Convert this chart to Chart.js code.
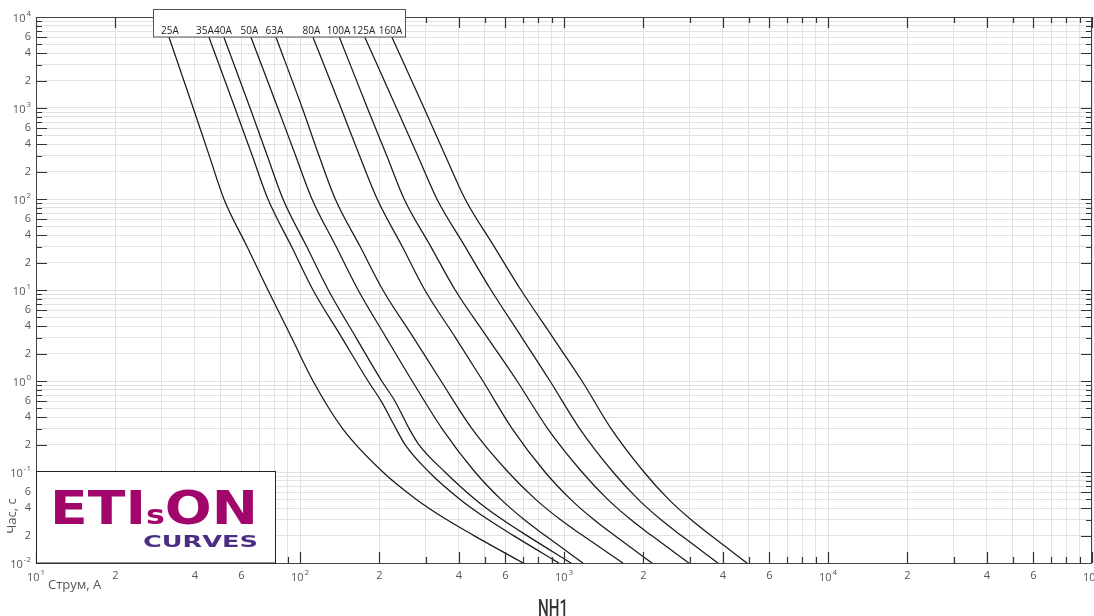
<!DOCTYPE html>
<html>
<head>
<meta charset="utf-8">
<script src="https://cdn.jsdelivr.net/npm/chart.js@4.4.1/dist/chart.umd.min.js"></script>
<style>
  body { margin: 0; background: #fff; }
  #wrap { width: 1094px; height: 616px; }
</style>
</head>
<body>
<div id="wrap"><canvas id="fuseChart" width="1094" height="616"></canvas></div>
<script>
    // fuse ratings (labels in the top box)
    const ratings = ["25A", "35A", "40A", "50A", "63A", "80A", "100A", "125A", "160A"];

    // time points, s
    const timesStd = [6000, 1000, 300, 100, 30, 10, 3, 1, 0.3, 0.1, 0.05, 0.03, 0.02, 0.01];
    const timesKink = [6000, 1000, 300, 100, 30, 10, 3, 1, 0.6, 0.3, 0.2, 0.1, 0.05, 0.03, 0.02, 0.01];

    // prospective current, A
    const i25 = [31.9, 39.4, 45.3, 51.5, 63.0, 75.6, 92.9, 112, 145, 206, 276, 359, 456, 699];
    const i35 = [45.2, 56.7, 65.9, 75.6, 92.9, 112, 144, 181, 203, 231, 250, 308, 404, 516, 644, 957];
    const i40 = [51.5, 64.7, 75.1, 86.2, 106, 128, 163, 204, 229, 259, 282, 354, 461, 584, 724, 1063];
    const i50 = [65.2, 82.4, 96.2, 111, 137, 166, 212, 266, 345, 460, 577, 706, 849, 1180];
    const i63 = [81.1, 102, 118, 136, 169, 206, 269, 342, 448, 614, 781, 968, 1178, 1673];
    const i80 = [112, 143, 168, 196, 244, 297, 388, 493, 636, 847, 1060, 1296, 1555, 2155];
    const i100 = [141, 180, 213, 248, 313, 387, 513, 664, 867, 1170, 1464, 1789, 2147, 2975];
    const i125 = [176, 232, 279, 330, 422, 529, 693, 885, 1146, 1533, 1910, 2326, 2782, 3831];
    const i160 = [223, 295, 355, 422, 544, 687, 908, 1170, 1508, 2009, 2492, 3025, 3604, 4934];

    const currents = [i25, i35, i40, i50, i63, i80, i100, i125, i160];
    const timesFor = [timesStd, timesKink, timesKink, timesStd, timesStd, timesStd, timesStd, timesStd, timesStd];

    // axis ranges
    const xMin = 10, xMax = 100000;
    const yMin = 0.01, yMax = 10000;

    // label centres inside the top box (px), as placed in the original sheet
    const labelX = [170, 205, 223, 249.5, 274.5, 311.5, 338.5, 363.5, 390.5];

    function logSteps(lo, hi) {
      const out = [];
      for (let e = Math.round(Math.log10(lo)); Math.pow(10, e) <= hi * 1.001; e++) {
        for (let m = 1; m <= 9; m++) {
          const v = m * Math.pow(10, e);
          if (v >= lo * 0.999 && v <= hi * 1.001) out.push({ v: v, m: m, e: e });
        }
      }
      return out;
    }

    const xSteps = logSteps(xMin, xMax);
    const ySteps = logSteps(yMin, yMax);

    const datasets = currents.map((cur, k) => ({
      label: ratings[k],
      data: cur.map((c, j) => ({ x: c, y: timesFor[k][j] })),
      showLine: true,
      borderColor: "#1a1a1a",
      borderWidth: 1.25,
      pointRadius: 0,
      cubicInterpolationMode: "monotone",
    }));

    function drawPow(ctx, exp, x, y, align) {
      ctx.font = '11px "Open Sans"';
      const wBase = ctx.measureText("10").width;
      ctx.font = '8px "Open Sans"';
      const sup = String(exp);
      const wSup = ctx.measureText(sup).width;
      let left;
      if (align === "right") left = x - wBase - wSup - 1;
      else left = x - (wBase + wSup + 1) / 2;
      ctx.textAlign = "left";
      ctx.textBaseline = "middle";
      ctx.font = '11px "Open Sans"';
      ctx.fillText("10", left, y + 2);
      ctx.font = '8px "Open Sans"';
      ctx.fillText(sup, left + wBase + 1, y - 3);
    }

    const decor = {
      id: "decor",
      afterDraw(chart) {
        const ctx = chart.ctx;
        const xs = chart.scales.x, ys = chart.scales.y;
        const a = chart.chartArea;
        ctx.save();

        // inward ticks on all four sides
        ctx.strokeStyle = "#333";
        ctx.lineWidth = 1.2;
        ctx.beginPath();
        xSteps.forEach(s => {
          const len = [1, 2, 4, 6].includes(s.m) ? 11 : 6;
          const px = Math.round(xs.getPixelForValue(s.v)) + 0.5;
          ctx.moveTo(px, a.bottom); ctx.lineTo(px, a.bottom - len);
          ctx.moveTo(px, a.top); ctx.lineTo(px, a.top + len);
        });
        ySteps.forEach(s => {
          const len = [1, 2, 4, 6].includes(s.m) ? 11 : 6;
          const py = Math.round(ys.getPixelForValue(s.v)) + 0.5;
          ctx.moveTo(a.left, py); ctx.lineTo(a.left + len, py);
          ctx.moveTo(a.right, py); ctx.lineTo(a.right - len, py);
        });
        ctx.stroke();

        // frame
        ctx.strokeStyle = "#444";
        ctx.lineWidth = 1;
        ctx.strokeRect(a.left + 0.5, a.top + 0.5, a.right - a.left - 1, a.bottom - a.top);

        // tick labels
        ctx.fillStyle = "#555";
        xSteps.forEach(s => {
          const px = xs.getPixelForValue(s.v);
          if (s.m === 1) {
            drawPow(ctx, s.e, px, 576, "center");
          } else if ([2, 4, 6].includes(s.m)) {
            ctx.font = '11px "Open Sans"';
            ctx.textAlign = "center";
            ctx.textBaseline = "middle";
            ctx.fillText(String(s.m), px, 576);
          }
        });
        ySteps.forEach(s => {
          const py = ys.getPixelForValue(s.v);
          if (s.m === 1) {
            drawPow(ctx, s.e, 31, py, "right");
          } else if ([2, 4, 6].includes(s.m)) {
            ctx.font = '11px "Open Sans"';
            ctx.textAlign = "right";
            ctx.textBaseline = "middle";
            ctx.fillText(String(s.m), 31, py);
          }
        });

        // axis titles
        ctx.font = '13px "Open Sans"';
        ctx.textAlign = "left";
        ctx.textBaseline = "middle";
        ctx.fillText("Струм, А", 48, 585);
        ctx.save();
        ctx.translate(12, 516);
        ctx.rotate(-Math.PI / 2);
        ctx.textAlign = "center";
        ctx.fillText("Час, с", 0, 0);
        ctx.restore();

        // chart title, narrow face
        ctx.save();
        ctx.fillStyle = "#333";
        ctx.font = '500 23px Roboto';
        const wT = ctx.measureText("NH1").width;
        ctx.translate(553, 616);
        ctx.scale(30 / wT, 1);
        ctx.textAlign = "center";
        ctx.textBaseline = "alphabetic";
        ctx.fillText("NH1", 0, 0);
        ctx.restore();

        // rating labels box at the top of the curves
        const starts = currents.map(c => xs.getPixelForValue(c[0]));
        const boxL = Math.round(starts[0]) - 15.5;
        const boxR = Math.round(starts[starts.length - 1]) + 13.5;
        ctx.fillStyle = "#fff";
        ctx.fillRect(boxL, 9.5, boxR - boxL, 27.5);
        ctx.strokeStyle = "#555";
        ctx.strokeRect(boxL, 9.5, boxR - boxL, 27.5);
        ctx.fillStyle = "#222";
        ctx.font = '10px "Open Sans"';
        ctx.textAlign = "center";
        ctx.textBaseline = "alphabetic";
        ratings.forEach((r, k) => ctx.fillText(r, labelX[k], 34));

        // logo box
        ctx.fillStyle = "#fff";
        ctx.fillRect(36.5, 471.5, 239, 91.5);
        ctx.strokeStyle = "#222";
        ctx.strokeRect(36.5, 471.5, 239, 91.5);

        ctx.save();
        ctx.fillStyle = "#a1066b";
        const big = 'bold 47px "DejaVu Sans"';
        const small = 'bold 27px "DejaVu Sans"';
        ctx.font = big;
        const wETI = ctx.measureText("ETI").width;
        const wON = ctx.measureText("ON").width;
        ctx.font = small;
        const wS = ctx.measureText("s").width;
        ctx.translate(50, 524);
        ctx.scale(208 / (wETI + wS + wON), 1);
        ctx.textAlign = "left";
        ctx.font = big;
        ctx.fillText("ETI", 0, 0);
        ctx.font = small;
        ctx.fillText("s", wETI, 0);
        ctx.font = big;
        ctx.fillText("ON", wETI + wS, 0);
        ctx.restore();

        ctx.save();
        ctx.fillStyle = "#4b2e83";
        ctx.font = 'bold 16px "DejaVu Sans"';
        const wC = ctx.measureText("CURVES").width;
        ctx.translate(143, 547);
        ctx.scale(115 / wC, 1);
        ctx.textAlign = "left";
        ctx.fillText("CURVES", 0, 0);
        ctx.restore();

        ctx.restore();
      },
    };

    const chart = new Chart(
      document.getElementById("fuseChart").getContext("2d"), {
        type: "scatter",
        data: { datasets: datasets },
        options: {
          responsive: false,
          animation: false,
          devicePixelRatio: 1,
          layout: { padding: { left: 36, top: 17, right: 2, bottom: 53 } },
          plugins: {
            legend: { display: false },
            tooltip: { enabled: false },
          },
          scales: {
            x: {
              type: "logarithmic",
              min: xMin,
              max: xMax,
              ticks: { display: false },
              grid: { color: "#e2e2e2", lineWidth: 1, drawTicks: false },
              border: { display: false },
              afterBuildTicks: (s) => { s.ticks = xSteps.map(t => ({ value: t.v })); },
              afterFit: (s) => { s.height = 0; },
            },
            y: {
              type: "logarithmic",
              min: yMin,
              max: yMax,
              ticks: { display: false },
              grid: { color: "#e2e2e2", lineWidth: 1, drawTicks: false },
              border: { display: false },
              afterBuildTicks: (s) => { s.ticks = ySteps.map(t => ({ value: t.v })); },
              afterFit: (s) => { s.width = 0; },
            },
          },
        },
        plugins: [decor],
      }
    );
</script>
</body>
</html>
